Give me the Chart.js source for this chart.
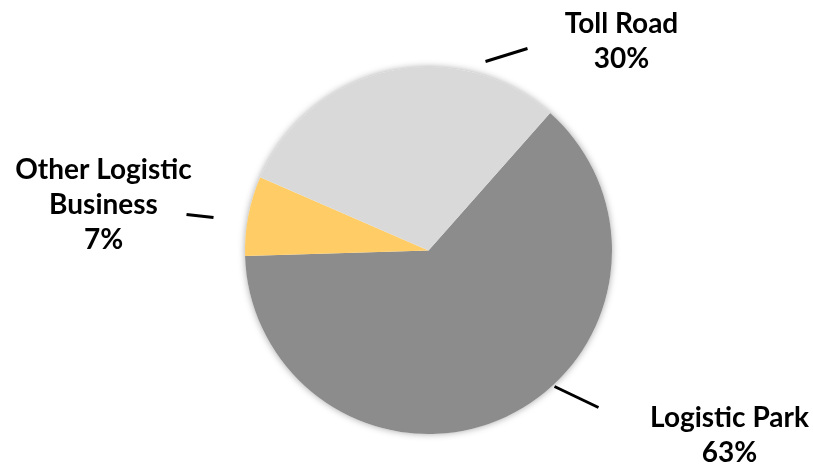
<!DOCTYPE html>
<html>
<head>
<meta charset="utf-8">
<script src="https://cdn.jsdelivr.net/npm/chart.js@4.4.0/dist/chart.umd.min.js"></script>
<style>
  html, body { margin: 0; padding: 0; background: #fff; }
  #wrap { width: 813px; height: 466px; position: relative; }
</style>
</head>
<body>
<div id="wrap"><canvas id="myChartPie"></canvas></div>
<script>
// business split (percent)
var categories = [["Logistic Park"], ["Other Logistic", "Business"], ["Toll Road"]];
var shares = [63, 7, 30];
var sliceColors = ["#8c8c8c", "#ffcc66", "#d9d9d9"];

// where each label sits, in px from the pie centre:
// text centre x, first baseline y, then the leader line ends
var labelSpots = [
    {tx: 301, ty: 176, lx1: 126, ly1: 136, lx2: 170, ly2: 157},
    {tx: -325, ty: -72, lx1: -242, ly1: -36, lx2: -215, ly2: -33},
    {tx: 193, ty: -218, lx1: 57, ly1: -189, lx2: 99, ly2: -202}
];

var FONT = "bold 28px Lato, 'Open Sans', sans-serif";
var LINE_H = 35;

// soft shadow behind the whole disc
var pieShadow = {
    id: 'pieShadow',
    beforeDatasetsDraw: function(chart){
        var arc = chart.getDatasetMeta(0).data[0];
        if(!arc) return;
        var ctx = chart.ctx;
        ctx.save();
        ctx.shadowColor = 'rgba(0,0,0,0.35)';
        ctx.shadowBlur = 7;
        ctx.fillStyle = '#ffffff';
        ctx.beginPath();
        ctx.arc(arc.x, arc.y, arc.outerRadius, 0, Math.PI*2);
        ctx.fill();
        ctx.restore();
    }
};

// category + percent labels with short leader lines
var sliceLabels = {
    id: 'sliceLabels',
    afterDatasetsDraw: function(chart){
        var ctx = chart.ctx;
        var arcs = chart.getDatasetMeta(0).data;
        var vals = chart.data.datasets[0].data;
        ctx.save();
        ctx.font = FONT;
        ctx.fillStyle = '#000';
        ctx.textAlign = 'center';
        ctx.textBaseline = 'alphabetic';
        ctx.strokeStyle = '#000';
        ctx.lineWidth = 3;
        arcs.forEach(function(arc, i){
            var s = labelSpots[i];
            var cx = arc.x, cy = arc.y;
            ctx.beginPath();
            ctx.moveTo(cx + s.lx1, cy + s.ly1);
            ctx.lineTo(cx + s.lx2, cy + s.ly2);
            ctx.stroke();
            var lines = chart.data.labels[i].concat([vals[i] + '%']);
            lines.forEach(function(t, k){
                ctx.fillText(t, cx + s.tx, cy + s.ty + k*LINE_H);
            });
        });
        ctx.restore();
    }
};

var pie = document.getElementById("myChartPie");
var myChart = new Chart(pie, {
    type: 'pie',
    data: {
        labels: categories,
        datasets: [{
            data: shares,
            backgroundColor: sliceColors,
            borderWidth: 0,
            hoverOffset: 0
        }]
    },
    options: {
        responsive: true,
        maintainAspectRatio: false,
        animation: false,
        events: [],
        rotation: 41.5,
        layout: { padding: { left: 44, right: 0, top: 67, bottom: 32 } },
        plugins: {
            legend: { display: false },
            tooltip: { enabled: false }
        }
    },
    plugins: [pieShadow, sliceLabels]
});
</script>
</body>
</html>
